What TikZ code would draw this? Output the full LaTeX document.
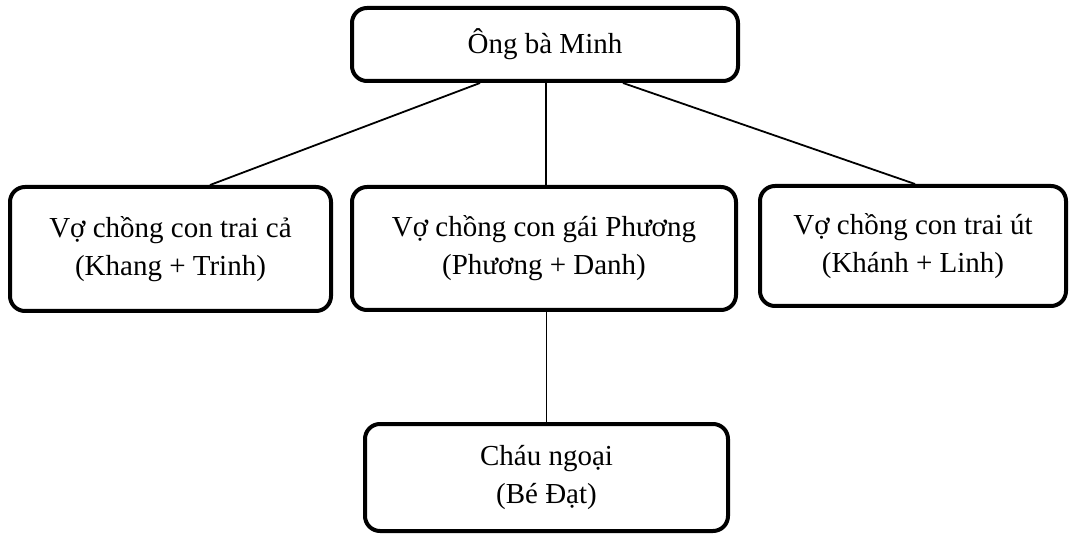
\documentclass[tikz,border=0pt]{standalone}
\usepackage{fontspec}
\setmainfont{Liberation Serif}
\begin{document}
\begin{tikzpicture}[x=1pt,y=-1pt,
  famb/.style={draw=black, line width=4pt, rounded corners=15pt, fill=white,
    inner sep=0pt, align=center, font=\fontsize{29}{38}\selectfont},
  link/.style={draw=black, line width=1.8pt}]
\useasboundingbox[fill=white] (0,0) rectangle (1071,537);
\node[famb, minimum width=386pt, minimum height=73pt] (top) at (545,44.5) {Ông bà Minh};
\node[famb, minimum width=321pt, minimum height=124pt] (left) at (170.5,249) {Vợ chồng con trai cả\\(Khang + Trinh)};
\node[famb, minimum width=384pt, minimum height=123pt] (mid) at (544,248.5) {Vợ chồng con gái Phương\\(Phương + Danh)};
\node[famb, minimum width=306pt, minimum height=120pt] (right) at (913,246) {Vợ chồng con trai út\\(Khánh + Linh)};
\node[famb, minimum width=363pt, minimum height=107pt] (bot) at (546.5,477.5) {Cháu ngoại\\(Bé Đạt)};
\draw[link] ([xshift=-65pt]top.south) -- ([xshift=39.5pt]left.north);
\draw[link] ([xshift=1pt]top.south) -- ([xshift=2pt]mid.north);
\draw[link] ([xshift=78pt]top.south) -- ([xshift=2pt]right.north);
\draw[link] ([xshift=2.5pt]mid.south) -- (bot.north);
\end{tikzpicture}
\end{document}
